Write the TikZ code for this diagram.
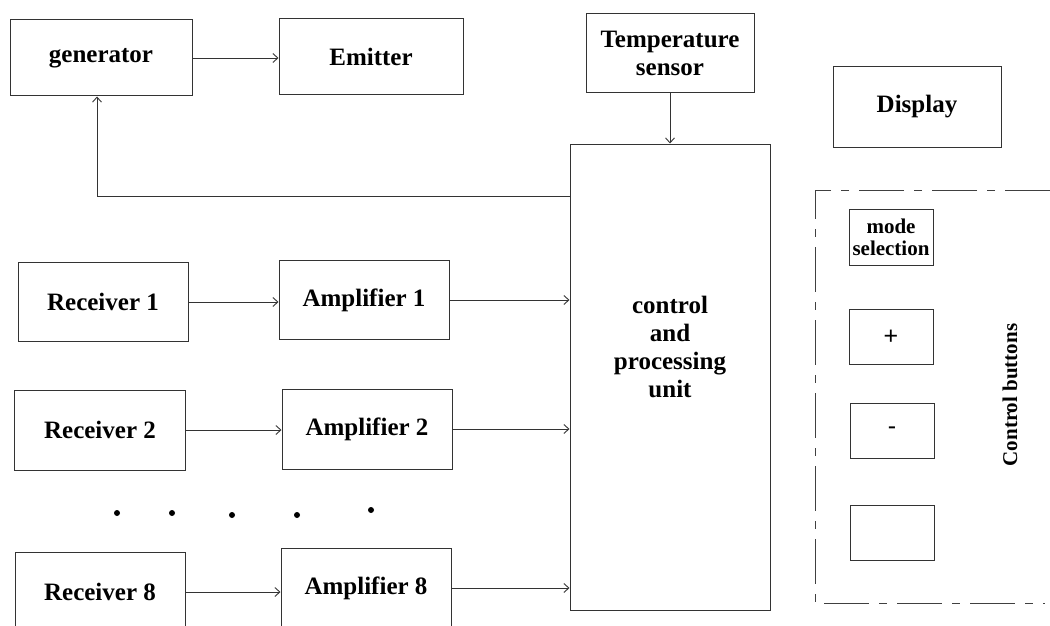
\documentclass[tikz,border=0pt]{standalone}
\usepackage{fontspec}
\setmainfont{Liberation Serif}
\newfontfamily\signfont{Liberation Sans}
\usetikzlibrary{arrows.meta}

\tikzset{
  block/.style={draw=black!80, line width=1pt, rectangle, inner sep=0pt,
    align=center, font=\fontsize{25}{28}\selectfont\bfseries},
  small/.style={font=\fontsize{21}{25}\selectfont\bfseries},
  link/.style={draw=black!80, line width=0.9pt, -{Straight Barb[length=5pt,width=9pt]}},
  frame/.style={draw=black!75, line width=1pt, dash pattern=on 45pt off 10pt on 8pt off 10pt}
}

\begin{document}
\begin{tikzpicture}[x=1pt,y=-1pt]
	\useasboundingbox (0,0) rectangle (1050,626);

	% top row
	\node[block, minimum width=182, minimum height=76] (gen) at (101,58) {generator};
	\node[block, minimum width=184, minimum height=76] (emit) at (371,57) {Emitter};
	\node[block, minimum width=168, minimum height=79] (temp) at (670,53) {Temperature\\sensor};
	\node[block, minimum width=168, minimum height=80] (disp) at (917,107) {Display};

	% control unit
	\node[block, minimum width=200, minimum height=466] (cpu) at (670,377) {};
	\node[block, draw=none] (cpulabel) at (670,347) {control\\and\\processing\\unit};

	% receivers and amplifiers
	\node[block, minimum width=170, minimum height=79] (rec1) at (103,302) {Receiver 1};
	\node[block, minimum width=170, minimum height=79] (amp1) at (364,300) {Amplifier 1};
	\node[block, minimum width=171, minimum height=80] (rec2) at (100,430) {Receiver 2};
	\node[block, minimum width=170, minimum height=80] (amp2) at (367,429) {Amplifier 2};
	\node[block, minimum width=170, minimum height=80] (rec8) at (100,592) {Receiver 8};
	\node[block, minimum width=170, minimum height=80] (amp8) at (366,588) {Amplifier 8};

	\fill (117,513) circle (3);
	\fill (172,513) circle (3);
	\fill (232,515) circle (3);
	\fill (297,515) circle (3);
	\fill (371,510) circle (3);

	% connections
	\draw[link] (gen) -- (emit.west |- gen);
	\draw[link] (temp.south) -- (cpu.north -| temp.south);
	\coordinate (fbcorner) at (97,196);
	\draw[link] (cpu.west |- fbcorner) -- (fbcorner) -- (gen.south -| fbcorner);
	\draw[link] (rec1.east) -- (amp1.west |- rec1.east);
	\draw[link] (amp1.east) -- (cpu.west |- amp1.east);
	\draw[link] (rec2.east) -- (amp2.west |- rec2.east);
	\draw[link] (amp2.east) -- (cpu.west |- amp2.east);
	\draw[link] (rec8.east) -- (amp8.west |- rec8.east);
	\draw[link] (amp8.east) -- (cpu.west |- amp8.east);

	% control buttons
	\draw[frame] (1050,190) -- (815,190) -- (815,603) -- (1045,603);
	\node[block, small, minimum width=84, minimum height=56] (mode) at (891,237) {mode\\[-3pt]selection};
	\node[block, minimum width=84, minimum height=55, font=\fontsize{25}{28}\signfont] (plus) at (891,337) {+};
	\node[block, minimum width=84, minimum height=55, font=\fontsize{25}{28}\signfont] (minus) at (892,431) {\raisebox{-4pt}{-}};
	\node[block, minimum width=84, minimum height=55] (blank) at (892,533) {};
	\node[small, rotate=90] (btnlabel) at (1010,395) {Control buttons};
\end{tikzpicture}
\end{document}
